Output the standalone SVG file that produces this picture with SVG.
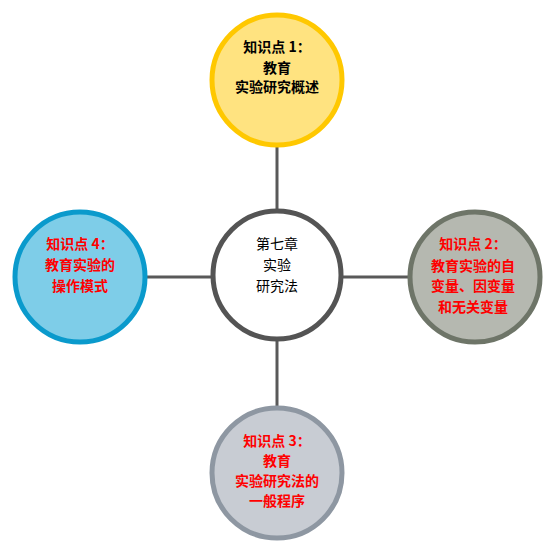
<svg xmlns="http://www.w3.org/2000/svg" width="556" height="556" viewBox="0 0 556 556">
<style>
.t{font-family:"Noto Sans CJK SC","Noto Sans",sans-serif;font-size:14px;font-weight:bold;text-anchor:middle;dominant-baseline:central}
.r{fill:#FF0000}
.k{fill:#000}
.c{font-weight:normal}
.link{stroke:#595959;stroke-width:3;fill:none}
</style>
<rect width="556" height="556" fill="#fff"/>
<g id="connectors">
<line class="link" x1="277" y1="145" x2="277" y2="211"/>
<line class="link" x1="277" y1="340" x2="277" y2="406"/>
<line class="link" x1="146" y1="277" x2="212" y2="277"/>
<line class="link" x1="342" y1="277" x2="408" y2="277"/>
</g>
<g id="center">
<circle cx="277" cy="275" r="64" fill="#fff" stroke="#545454" stroke-width="5"/>
<text class="t k c" x="277" y="243">第七章</text>
<text class="t k c" x="277" y="264">实验</text>
<text class="t k c" x="277" y="285">研究法</text>
</g>
<g id="node1">
<circle cx="277" cy="80" r="65" fill="#FFE380" stroke="#FFC800" stroke-width="5"/>
<text class="t k" x="277" y="46">知识点 1：</text>
<text class="t k" x="277" y="67">教育</text>
<text class="t k" x="277" y="86">实验研究概述</text>
</g>
<g id="node2">
<circle cx="475" cy="277" r="65" fill="#B5B8B0" stroke="#6E7568" stroke-width="5"/>
<text class="t r" x="473" y="243">知识点 2：</text>
<text class="t r" x="473" y="265">教育实验的自</text>
<text class="t r" x="473" y="285">变量、因变量</text>
<text class="t r" x="473" y="306">和无关变量</text>
</g>
<g id="node3">
<circle cx="277" cy="473" r="65" fill="#C8CCD3" stroke="#8E97A2" stroke-width="5"/>
<text class="t r" x="277" y="440">知识点 3：</text>
<text class="t r" x="277" y="460">教育</text>
<text class="t r" x="277" y="480">实验研究法的</text>
<text class="t r" x="277" y="500">一般程序</text>
</g>
<g id="node4">
<circle cx="80" cy="277" r="65" fill="#7ECDE8" stroke="#0A9ACC" stroke-width="5"/>
<text class="t r" x="80" y="243">知识点 4：</text>
<text class="t r" x="80" y="264">教育实验的</text>
<text class="t r" x="80" y="285">操作模式</text>
</g>
</svg>
